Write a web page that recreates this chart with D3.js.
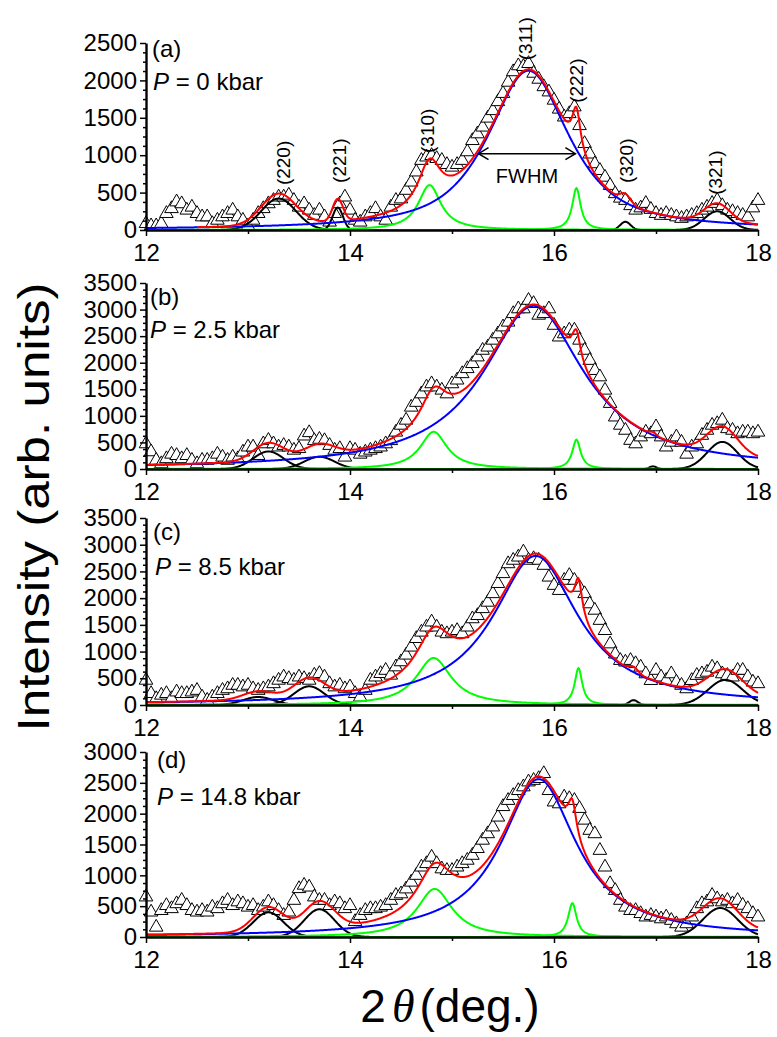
<!DOCTYPE html>
<html>
<head>
<meta charset="utf-8">
<script src="https://cdn.jsdelivr.net/npm/d3@7"></script>
<style>
  body { margin: 0; background: #fff; }
  svg text { font-family: "Liberation Sans", Arial, sans-serif; fill: #000; }
</style>
</head>
<body>
<svg id="chart" width="777" height="1037"></svg>
<script>
// ---- data ----
const panelLetters = ["(a)", "(b)", "(c)", "(d)"];
const pressures = ["0", "2.5", "8.5", "14.8"];
const yMaxes = [2500, 3500, 3500, 3000];
const xTicks = [12, 14, 16, 18];
const xMinorTicks = [13, 15, 17];

// measured intensity, 2theta from 12.00 to 18.00 in steps of 0.05
const thetaStart = 12, thetaStep = 0.05;
const intensityA = [
  90, 60, 60, 90, 225, 290, 380, 355, 270, 310,
  225, 180, 180, 90, 135, 180, 225, 270, 180, 135,
  60, 135, 225, 290, 355, 400, 445, 445, 470, 400,
  310, 355, 270, 200, 270, 180, 110, 225, 355, 445,
  270, 135, 110, 180, 225, 290, 180, 135, 310, 400,
  420, 535, 645, 780, 935, 980, 1000, 960, 935, 880,
  845, 880, 935, 1050, 1200, 1290, 1380, 1500, 1600, 1720,
  1830, 1980, 2120, 2200, 2190, 2230, 2100, 2020, 1920, 1850,
  1740, 1620, 1515, 1560, 1650, 1400, 1160, 1020, 890, 800,
  710, 600, 490, 430, 400, 330, 270, 300, 360, 280,
  225, 200, 225, 200, 180, 160, 180, 200, 225, 270,
  310, 360, 400, 330, 270, 250, 225, 200, 180, 300,
  400];
const intensityB = [
  480, 330, 170, 106, 200, 285, 260, 200, 260, 170,
  106, 170, 170, 200, 285, 230, 170, 230, 200, 325,
  420, 420, 260, 480, 545, 480, 420, 450, 420, 360,
  390, 627, 690, 540, 565, 540, 450, 360, 390, 230,
  390, 360, 285, 325, 360, 390, 420, 480, 540, 700,
  830, 925, 1170, 1260, 1420, 1550, 1610, 1550, 1490, 1420,
  1610, 1680, 1800, 1895, 1990, 2115, 2240, 2300, 2430, 2550,
  2680, 2770, 2930, 3020, 3020, 3180, 3120, 2900, 2930, 3020,
  2710, 2490, 2550, 2620, 2620, 2430, 2240, 2050, 1860, 1740,
  1490, 1240, 985, 830, 735, 545, 480, 610, 700, 670,
  800, 610, 420, 510, 610, 510, 285, 420, 480, 640,
  735, 830, 860, 925, 765, 735, 670, 700, 700, 670,
  700];
const intensityC = [
  470, 220, 125, 190, 220, 125, 250, 220, 220, 250,
  280, 155, 95, 155, 220, 280, 310, 375, 375, 345,
  375, 310, 280, 310, 345, 405, 470, 530, 500, 470,
  530, 500, 470, 565, 595, 530, 405, 345, 375, 310,
  345, 220, 155, 280, 470, 530, 595, 655, 565, 720,
  815, 940, 1090, 1250, 1370, 1465, 1560, 1465, 1370, 1340,
  1370, 1400, 1340, 1465, 1620, 1680, 1810, 1930, 2090, 2280,
  2465, 2650, 2715, 2775, 2870, 2715, 2745, 2715, 2620, 2400,
  2245, 2150, 2340, 2430, 2340, 2210, 2090, 1900, 1780, 1590,
  1400, 1150, 960, 840, 810, 840, 780, 715, 590, 465,
  655, 530, 465, 590, 435, 375, 310, 465, 560, 590,
  620, 715, 685, 590, 560, 530, 655, 655, 530, 435,
  405];
const intensityD = [
  655, 410, 165, 435, 515, 465, 545, 600, 515, 435,
  410, 435, 410, 490, 465, 545, 600, 515, 575, 545,
  490, 515, 435, 490, 575, 515, 435, 355, 410, 600,
  790, 845, 815, 655, 600, 600, 515, 575, 545, 465,
  515, 255, 355, 435, 465, 465, 490, 515, 600, 680,
  705, 785, 895, 1005, 1140, 1195, 1300, 1195, 1110, 1085,
  1085, 1140, 1195, 1250, 1330, 1440, 1575, 1680, 1790, 1950,
  2120, 2220, 2300, 2380, 2440, 2520, 2545, 2575, 2655, 2380,
  2195, 2165, 2275, 2250, 2220, 2090, 1900, 1735, 1680, 1410,
  1140, 870, 760, 600, 490, 435, 435, 385, 330, 355,
  330, 300, 330, 275, 220, 165, 220, 330, 465, 545,
  575, 680, 625, 575, 600, 545, 600, 520, 465, 385,
  330];

// fitted peaks: [centre, height, FWHM, Lorentzian fraction]
const broadA = [[15.75, 2130, 0.95, 0.8]];
const sharpA = [[14.78, 600, 0.27, 1], [16.22, 560, 0.10, 1]];
const minorA = [[13.30, 420, 0.40, 0], [13.88, 300, 0.12, 0], [16.70, 110, 0.12, 0], [17.60, 250, 0.30, 0]];
const broadB = [[15.80, 3070, 1.20, 1]];
const sharpB = [[14.82, 700, 0.32, 1], [16.22, 550, 0.10, 1]];
const minorB = [[13.20, 330, 0.35, 0], [13.70, 230, 0.35, 0], [16.97, 50, 0.08, 0], [17.65, 510, 0.35, 0]];
const broadC = [[15.82, 2790, 1.02, 1]];
const sharpC = [[14.82, 880, 0.42, 1], [16.24, 690, 0.09, 1]];
const minorC = [[13.10, 150, 0.35, 0], [13.60, 350, 0.35, 0], [16.78, 90, 0.10, 0], [17.68, 470, 0.40, 0]];
const broadD = [[15.85, 2560, 0.90, 1]];
const sharpD = [[14.83, 780, 0.42, 1], [16.18, 550, 0.10, 1]];
const minorD = [[13.20, 400, 0.35, 0], [13.70, 450, 0.35, 0], [17.63, 470, 0.40, 0]];
const fitStart = [12.5, 12, 12, 12];

// Miller indices marked in panel (a): label, 2theta, intensity at the foot of the label
const hklLabels = ["(220)", "(221)", "(310)", "(311)", "(222)", "(320)", "(321)"];
const hklTheta = [13.35, 13.90, 14.76, 15.73, 16.23, 16.72, 17.59];
const hklFoot = [600, 630, 1030, 2270, 1700, 630, 470];
const fwhmEnds = [15.26, 16.21];
const fwhmLevel = 1020;

// ---- drawing ----
const intensities = [intensityA, intensityB, intensityC, intensityD];
const broads = [broadA, broadB, broadC, broadD];
const sharps = [sharpA, sharpB, sharpC, sharpD];
const minors = [minorA, minorB, minorC, minorD];

const panelTop = [43, 283, 518, 752];
const panelBottom = [230, 469, 705, 937];
const letterPos = [[152, 57], [150, 305], [153, 540], [157, 768]];
const pPos = [[153, 90], [150, 338], [155, 575], [157, 805]];

const svg = d3.select("#chart");
const x = d3.scaleLinear().domain([12, 18]).range([146, 758]);

let profile = (t, p) => {
  const d = (t - p[0]) / (p[2] / 2);
  return p[1] * (p[3] / (1 + d * d) + (1 - p[3]) * Math.exp(-Math.LN2 * d * d));
};

const triangle = "M0,-7.5L6.8,4.3L-6.8,4.3Z";

panelLetters.forEach((letter, i) => {
  const y = d3.scaleLinear().domain([0, yMaxes[i]]).range([panelBottom[i], panelTop[i]]);
  const g = svg.append("g");

  // measured points
  g.append("g").selectAll("path")
    .data(intensities[i])
    .enter()
    .append("path")
      .attr("d", triangle)
      .attr("transform", (d, k) => `translate(${x(thetaStart + k * thetaStep)},${y(d)})`)
      .attr("fill", "#fff")
      .attr("stroke", "#000")
      .attr("stroke-width", 1);

  // fit components
  const grid = d3.range(12, 18.0001, 0.005);
  const fitGrid = grid.filter(t => t >= fitStart[i] - 1e-9);
  const line = d3.line().x(d => x(d[0])).y(d => y(d[1]));
  const comp = (p, ts) => ts.map(t => [t, profile(t, p)]);

  minors[i].forEach(p => {
    g.append("path").attr("d", line(comp(p, grid)))
      .attr("fill", "none").attr("stroke", "#000").attr("stroke-width", 2);
  });
  sharps[i].forEach(p => {
    g.append("path").attr("d", line(comp(p, grid)))
      .attr("fill", "none").attr("stroke", "#00ff00").attr("stroke-width", 2);
  });
  broads[i].forEach(p => {
    g.append("path").attr("d", line(comp(p, grid)))
      .attr("fill", "none").attr("stroke", "#0000ff").attr("stroke-width", 2);
  });
  const all = broads[i].concat(sharps[i], minors[i]);
  const total = fitGrid.map(t => [t, d3.sum(all, p => profile(t, p))]);
  g.append("path").attr("d", line(total))
    .attr("fill", "none").attr("stroke", "#ff0000").attr("stroke-width", 2);

  // axes drawn over the curves
  const yMajor = d3.range(0, yMaxes[i] + 1, 500);
  const yMinor = d3.range(0, yMaxes[i] + 1, 125).filter(v => v % 500 !== 0);
  const ax = g.append("g");
  ax.append("g")
    .attr("transform", `translate(${x(12)},0)`)
    .call(d3.axisLeft(y).tickValues(yMinor).tickSize(3).tickSizeOuter(0).tickFormat(""))
    .call(a => a.select(".domain").remove());
  ax.append("g")
    .attr("transform", `translate(${x(12)},0)`)
    .call(d3.axisLeft(y).tickValues(yMajor).tickSize(6).tickSizeOuter(0).tickPadding(3).tickFormat(d3.format("d")));
  ax.append("g")
    .attr("transform", `translate(0,${panelBottom[i]})`)
    .call(d3.axisBottom(x).tickValues(xMinorTicks).tickSize(4).tickSizeOuter(0).tickFormat(""))
    .call(a => a.select(".domain").remove());
  ax.append("g")
    .attr("transform", `translate(0,${panelBottom[i]})`)
    .call(d3.axisBottom(x).tickValues(xTicks).tickSize(6).tickSizeOuter(0).tickPadding(8).tickFormat(d3.format("d")));

  ax.selectAll(".tick line").attr("stroke", "#000").attr("stroke-width", 1.5);
  ax.selectAll(".domain").attr("stroke", "#000").attr("stroke-width", 2.4);
  ax.selectAll(".tick text").attr("font-size", 24).attr("font-family", "Liberation Sans, Arial, sans-serif");

  // panel labels
  g.append("text")
    .attr("x", letterPos[i][0]).attr("y", letterPos[i][1])
    .attr("font-size", 24)
    .text(letter);
  const pt = g.append("text")
    .attr("x", pPos[i][0]).attr("y", pPos[i][1])
    .attr("font-size", 24);
  pt.append("tspan").attr("font-style", "italic").text("P");
  pt.append("tspan").text(" = " + pressures[i] + " kbar");

  if (i === 0) {
    hklLabels.forEach((lab, k) => {
      g.append("text")
        .attr("transform", `translate(${x(hklTheta[k]) + 6},${y(hklFoot[k])}) rotate(-90)`)
        .attr("font-size", 19)
        .text(lab);
    });
    const ay = y(fwhmLevel), ax1 = x(fwhmEnds[0]), ax2 = x(fwhmEnds[1]);
    g.append("line")
      .attr("x1", ax1).attr("x2", ax2).attr("y1", ay).attr("y2", ay)
      .attr("stroke", "#000").attr("stroke-width", 1.5);
    g.append("path")
      .attr("d", `M${ax1 + 10},${ay - 6}L${ax1},${ay}L${ax1 + 10},${ay + 6}M${ax2 - 10},${ay - 6}L${ax2},${ay}L${ax2 - 10},${ay + 6}`)
      .attr("fill", "none").attr("stroke", "#000").attr("stroke-width", 1.5);
    g.append("text")
      .attr("x", (ax1 + ax2) / 2).attr("y", 183)
      .attr("text-anchor", "middle")
      .attr("font-size", 20)
      .text("FWHM");
  }
});

// axis titles
svg.append("text")
  .attr("transform", "translate(49,507) rotate(-90)")
  .attr("text-anchor", "middle")
  .attr("font-size", 45)
  .attr("textLength", 449)
  .attr("lengthAdjust", "spacingAndGlyphs")
  .text("Intensity (arb. units)");

const xt = svg.append("text")
  .attr("x", 450).attr("y", 1022)
  .attr("text-anchor", "middle")
  .attr("font-size", 46);
xt.append("tspan").text("2");
xt.append("tspan").attr("dx", 6).attr("font-family", "Liberation Serif, serif").attr("font-style", "italic").text("θ");
xt.append("tspan").attr("dx", 5).text("(deg.)");
</script>
</body>
</html>
